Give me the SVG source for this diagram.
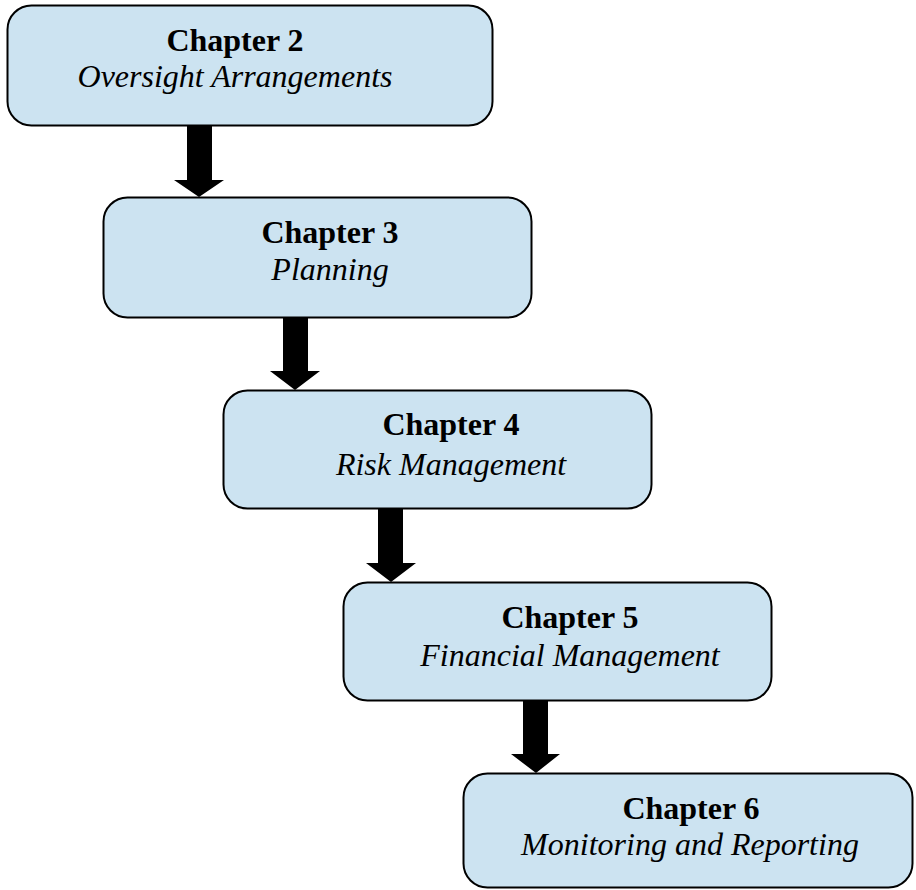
<svg xmlns="http://www.w3.org/2000/svg" width="916" height="890" viewBox="0 0 916 890">
<style>
.box{fill:#cce3f1;stroke:#000;stroke-width:2}
.t{font-family:"Liberation Serif","Times New Roman",serif;font-size:32px;text-anchor:middle;fill:#000}
.b{font-weight:bold}
.i{font-style:italic}
.arr{fill:#000;stroke:none}
</style>
<rect width="916" height="890" fill="#fff"/>
<g id="connectors">
<polygon class="arr" points="187,125 212,125 212,180 224,180 199,197 174,180 187,180"/>
<polygon class="arr" points="283,317 308,317 308,371 320,371 295,390 270,371 283,371"/>
<polygon class="arr" points="378,508 403,508 403,563 416,563 391,582 366,563 378,563"/>
<polygon class="arr" points="523,700 548,700 548,754 560,754 536,773 511,754 523,754"/>
</g>
<g id="node-ch2">
<rect class="box" x="7.5" y="5.5" width="485" height="120" rx="24"/>
<text class="t b" x="235" y="51">Chapter 2</text>
<text class="t i" x="235" y="87">Oversight Arrangements</text>
</g>
<g id="node-ch3">
<rect class="box" x="103.5" y="197.5" width="428" height="120" rx="24"/>
<text class="t b" x="330" y="243">Chapter 3</text>
<text class="t i" x="330" y="280">Planning</text>
</g>
<g id="node-ch4">
<rect class="box" x="223.5" y="390.5" width="428" height="118" rx="24"/>
<text class="t b" x="451" y="435">Chapter 4</text>
<text class="t i" x="451" y="475">Risk Management</text>
</g>
<g id="node-ch5">
<rect class="box" x="343.5" y="582.5" width="428" height="118" rx="24"/>
<text class="t b" x="570" y="628">Chapter 5</text>
<text class="t i" x="570" y="666">Financial Management</text>
</g>
<g id="node-ch6">
<rect class="box" x="463.5" y="773.5" width="449" height="114" rx="24"/>
<text class="t b" x="691" y="819">Chapter 6</text>
<text class="t i" x="690" y="855">Monitoring and Reporting</text>
</g>
</svg>
